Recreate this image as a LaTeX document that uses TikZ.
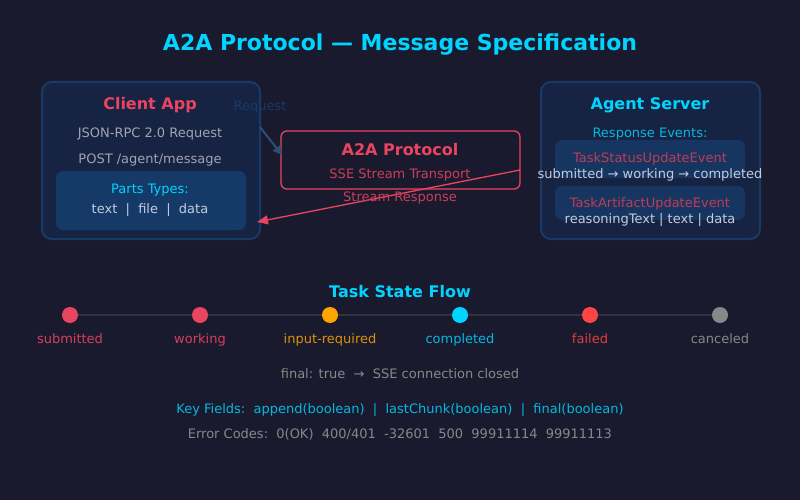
\documentclass[tikz,border=0pt]{standalone}
\usepackage{fontspec}
\setmainfont{DejaVu Sans}
\usetikzlibrary{arrows.meta}
\definecolor{bg}{HTML}{1A1A2E}
\definecolor{boxfill}{HTML}{172342}
\definecolor{boxline}{HTML}{173A66}
\definecolor{innerfill}{HTML}{163A68}
\definecolor{cyanc}{HTML}{00D4FF}
\definecolor{redc}{HTML}{E94560}
\definecolor{grayt}{HTML}{A0A4B4}
\definecolor{lightt}{HTML}{C4CCDC}
\definecolor{orangec}{HTML}{FFA500}
\definecolor{failc}{HTML}{FF4444}
\definecolor{cancc}{HTML}{888888}
\definecolor{linec}{HTML}{33333F}
\tikzset{
  panel/.style={draw=boxline, line width=2pt, fill=boxfill, rounded corners=10pt},
  txt/.style={font=\fontsize{13}{15}\selectfont, inner sep=0pt, anchor=base},
  big/.style={font=\fontsize{16}{18}\bfseries\selectfont, inner sep=0pt, anchor=base},
  dot/.style={circle, minimum size=16pt, inner sep=0pt},
}
\begin{document}
\begin{tikzpicture}[x=1pt,y=-1pt]
\fill[bg] (0,0) rectangle (800,500);
\useasboundingbox (0,0) rectangle (800,500);
\node[inner sep=0pt, anchor=base, text=cyanc, font=\fontsize{22}{26}\bfseries\selectfont] (title) at (400,51) {A2A Protocol — Message Specification};
% client
\draw[panel] (42,82) rectangle (260,239);
\node[big, text=redc] (client) at (150,110) {Client App};
\node[txt, text=grayt] (c1) at (150,138) {JSON-RPC 2.0 Request};
\node[txt, text=grayt] (c2) at (150,163) {POST /agent/message};
\fill[innerfill] (56,171) [rounded corners=7pt] rectangle (246,230);
\node[txt, text=cyanc] (c3) at (150,193) {Parts Types:};
\node[txt, text=lightt] (c4) at (150,213) {text\ \ |\ \ file\ \ |\ \ data};
\coordinate (clientR) at (260,127);
\coordinate (clientIn) at (257,222);
% protocol
\draw[draw=redc, line width=1.3pt, rounded corners=6pt] (281,131) rectangle (520,189);
\node[big, text=redc] (proto) at (400,155) {A2A Protocol};
\node[txt, text=redc!85!bg] (p1) at (400,178) {SSE Stream Transport};
\coordinate (protoL) at (282,155);
\coordinate (protoR) at (520,170);
% agent
\draw[panel] (541,82) rectangle (760,239);
\node[big, text=cyanc] (agent) at (650,110) {Agent Server};
\node[txt, text=cyanc!85!bg] (a1) at (650,138) {Response Events:};
\fill[innerfill!80!boxfill] (555,140) [rounded corners=7pt] rectangle (745,178);
\fill[innerfill!80!boxfill] (555,186) [rounded corners=7pt] rectangle (745,220);
\node[txt, text=redc!80!bg] (a2) at (650,162) {TaskStatusUpdateEvent};
\node[txt, text=lightt] (a3) at (650,178) {submitted → working → completed};
\node[txt, text=redc!80!bg] (a4) at (650,207) {TaskArtifactUpdateEvent};
\node[txt, text=lightt] (a5) at (650,223) {reasoningText | text | data};
% arrows
\draw[draw=boxline!90!white, line width=2pt, -{Triangle[length=9pt,width=9pt]}] (clientR) -- (protoL);
\node[txt, text=boxline] (reqlbl) at (260,111) {Request};
\draw[draw=redc, line width=1.3pt, -{Triangle[length=11pt,width=9pt]}] (protoR) -- (clientIn);
\node[txt, text=redc!85!bg] (resplbl) at (400,201) {Stream Response};
% task flow
\node[big, text=cyanc] (flow) at (400,297) {Task State Flow};
\node[dot, fill=redc] (s1) at (70,315) {};
\node[dot, fill=redc] (s2) at (200,315) {};
\node[dot, fill=orangec] (s3) at (330,315) {};
\node[dot, fill=cyanc] (s4) at (460,315) {};
\node[dot, fill=failc] (s5) at (590,315) {};
\node[dot, fill=cancc] (s6) at (720,315) {};
\draw[linec, line width=2pt] (s1) -- (s2) (s2) -- (s3) (s3) -- (s4) (s4) -- (s5) (s5) -- (s6);
\node[txt, text=redc!90!bg] (l1) at (70,343) {submitted};
\node[txt, text=redc!90!bg] (l2) at (200,343) {working};
\node[txt, text=orangec!85!bg] (l3) at (330,343) {input-required};
\node[txt, text=cyanc!85!bg] (l4) at (460,343) {completed};
\node[txt, text=failc!85!bg] (l5) at (590,343) {failed};
\node[txt, text=cancc] (l6) at (720,343) {canceled};
\node[txt, text=cancc] (fin) at (400,378) {final: true\ \ →\ \ SSE connection closed};
\node[txt, text=cyanc!85!bg] (keys) at (400,413) {Key Fields:\ \ append(boolean)\ \ |\ \ lastChunk(boolean)\ \ |\ \ final(boolean)};
\node[txt, text=cancc] (err) at (400,438) {Error Codes:\ \ 0(OK)\ \ 400/401\ \ -32601\ \ 500\ \ 99911114\ \ 99911113};
\end{tikzpicture}
\end{document}
